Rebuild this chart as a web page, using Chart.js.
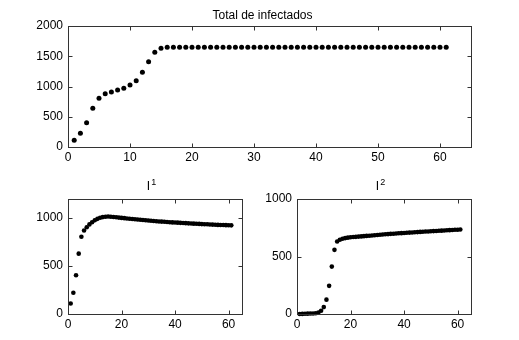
<!DOCTYPE html>
<html>
<head>
<meta charset="utf-8">
<script src="https://cdn.jsdelivr.net/npm/chart.js@4/dist/chart.umd.min.js"></script>
<style>
  html, body { margin: 0; padding: 0; background: #fff; }
  #wrap { position: relative; width: 519px; height: 340px; overflow: hidden; }
  canvas { position: absolute; }
</style>
</head>
<body>
<div id="wrap">
  <canvas id="cTop" width="519" height="170" style="left:0;top:0"></canvas>
  <canvas id="cI1" width="260" height="170" style="left:0;top:170px"></canvas>
  <canvas id="cI2" width="260" height="170" style="left:259px;top:170px"></canvas>
</div>
<script>
// ---- data ----
const days = [1,2,3,4,5,6,7,8,9,10,11,12,13,14,15,16,17,18,19,20,21,22,23,24,25,26,27,28,29,30,
  31,32,33,34,35,36,37,38,39,40,41,42,43,44,45,46,47,48,49,50,51,52,53,54,55,56,57,58,59,60,61];

const totalInfected = [110,226,402,639,804,882,909,942,970,1025,1096,1234,1410,1565,1631,1647,
  1650,1650,1650,1650,1650,1650,1650,1650,1650,1650,1650,1650,1650,1650,1650,1650,1650,1650,1650,
  1650,1650,1650,1650,1650,1650,1650,1650,1650,1650,1650,1650,1650,1650,1650,1650,1650,1650,1650,
  1650,1650,1650,1650,1650,1650,1650];

const infectedI1 = [110,221,405,630,806,872,905,935,958,978,993,1004,1011,1015,1017,1015,1012,1009,
  1006,1003,1000,997,994,991,989,986,983,981,978,976,973,970,968,966,964,962,960,958,956,955,953,
  951,949,948,946,945,943,941,940,938,937,936,934,933,932,930,929,928,927,926,925];

const infectedI2 = [0,1,2,3,4,5,7,12,28,60,125,245,412,558,630,646,655,660,664,667,669,671,673,675,
  677,679,681,683,685,687,689,691,693,695,697,698,700,702,703,705,706,708,709,711,712,714,715,717,
  718,720,721,722,724,725,726,728,729,730,732,733,735];

const topXTicks = [0,10,20,30,40,50,60];
const topYTicks = [0,500,1000,1500,2000];
const botXTicks = [0,20,40,60];
const botYTicks = [0,500,1000];

const titleTop = "Total de infectados";
const titleI1 = ["I", "1"];
const titleI2 = ["I", "2"];

// ---- setup ----
const FONT = "'Liberation Sans', Arial, Helvetica, sans-serif";
Chart.defaults.font.family = FONT;
Chart.defaults.font.size = 12;
Chart.defaults.color = '#000';

const frameTicks = {
  id: 'frameTicks',
  afterDraw(chart, args, opts) {
    const { ctx, chartArea: a, scales } = chart;
    const x = scales.x, y = scales.y;
    ctx.save();
    ctx.strokeStyle = '#333';
    ctx.lineWidth = 1;
    const L = Math.round(a.left) + 0.5, R = Math.round(a.right) + 0.5;
    const T = Math.round(a.top) + 0.5, B = Math.round(a.bottom) + 0.5;
    ctx.strokeRect(L, T, R - L, B - T);
    const tl = 4;
    ctx.beginPath();
    x.ticks.forEach(t => {
      const px = Math.round(x.getPixelForValue(t.value)) + 0.5;
      ctx.moveTo(px, B); ctx.lineTo(px, B - tl);
      ctx.moveTo(px, T); ctx.lineTo(px, T + tl);
    });
    y.ticks.forEach(t => {
      const py = Math.round(y.getPixelForValue(t.value)) + 0.5;
      ctx.moveTo(L, py); ctx.lineTo(L + tl, py);
      ctx.moveTo(R, py); ctx.lineTo(R - tl, py);
    });
    ctx.stroke();
    // title
    ctx.fillStyle = '#000';
    ctx.textBaseline = 'alphabetic';
    if (opts.sup) {
      ctx.font = '12px ' + FONT;
      ctx.textAlign = 'left';
      const w1 = ctx.measureText(opts.text).width;
      ctx.font = '9px ' + FONT;
      const w2 = ctx.measureText(opts.sup).width;
      const cx = (a.left + a.right) / 2 + opts.dx;
      const sx = cx - (w1 + w2) / 2;
      ctx.font = '12px ' + FONT;
      ctx.fillText(opts.text, sx, a.top + opts.dy);
      ctx.font = '9px ' + FONT;
      ctx.fillText(opts.sup, sx + w1 + 1, a.top + opts.dy - 5);
    } else {
      ctx.font = '12px ' + FONT;
      ctx.textAlign = 'center';
      ctx.fillText(opts.text, (a.left + a.right) / 2 + opts.dx, a.top + opts.dy);
    }
    ctx.restore();
  }
};

function makeChart(id, yValues, cfg) {
  const pts = days.map((d, i) => ({ x: d, y: yValues[i] }));
  return new Chart(document.getElementById(id), {
    type: 'scatter',
    data: {
      datasets: [{
        data: pts,
        pointRadius: cfg.r,
        pointHoverRadius: cfg.r,
        pointBackgroundColor: '#000',
        pointBorderWidth: 0,
        borderWidth: 0,
        showLine: false,
        clip: false
      }]
    },
    options: {
      responsive: false,
      animation: false,
      devicePixelRatio: 1,
      events: [],
      layout: { padding: { left: 0, top: cfg.padTop, right: cfg.padRight, bottom: 0 } },
      plugins: {
        legend: { display: false },
        tooltip: { enabled: false },
        title: { display: false },
        frameTicks: cfg.title
      },
      scales: {
        x: {
          type: 'linear',
          min: 0, max: 65,
          grid: { display: false, drawTicks: false },
          border: { display: false },
          ticks: { padding: 3, maxRotation: 0, font: { size: 12 }, callback: v => String(v) },
          afterBuildTicks: s => { s.ticks = cfg.xTicks.map(v => ({ value: v })); },
          afterFit: s => { s.height = cfg.xH; }
        },
        y: {
          type: 'linear',
          min: 0, max: cfg.yMax,
          grid: { display: false, drawTicks: false },
          border: { display: false },
          ticks: { padding: 5, font: { size: 12 }, callback: v => String(v) },
          afterBuildTicks: s => { s.ticks = cfg.yTicks.map(v => ({ value: v })); },
          afterFit: s => { s.width = cfg.yW; }
        }
      }
    },
    plugins: [frameTicks]
  });
}

makeChart('cTop', totalInfected, {
  r: 2.5, padTop: 26, padRight: 48, xH: 23, yW: 68, yMax: 2000,
  xTicks: topXTicks, yTicks: topYTicks,
  title: { text: titleTop, dx: -7, dy: -7 }
});
makeChart('cI1', infectedI1, {
  r: 2.3, padTop: 29, padRight: 18, xH: 26, yW: 68, yMax: 1200,
  xTicks: botXTicks, yTicks: botYTicks,
  title: { text: titleI1[0], sup: titleI1[1], dx: -4, dy: -9 }
});
makeChart('cI2', infectedI2, {
  r: 2.3, padTop: 29, padRight: 48, xH: 26, yW: 38, yMax: 1000,
  xTicks: botXTicks, yTicks: botYTicks,
  title: { text: titleI2[0], sup: titleI2[1], dx: -4, dy: -9 }
});
</script>
</body>
</html>
